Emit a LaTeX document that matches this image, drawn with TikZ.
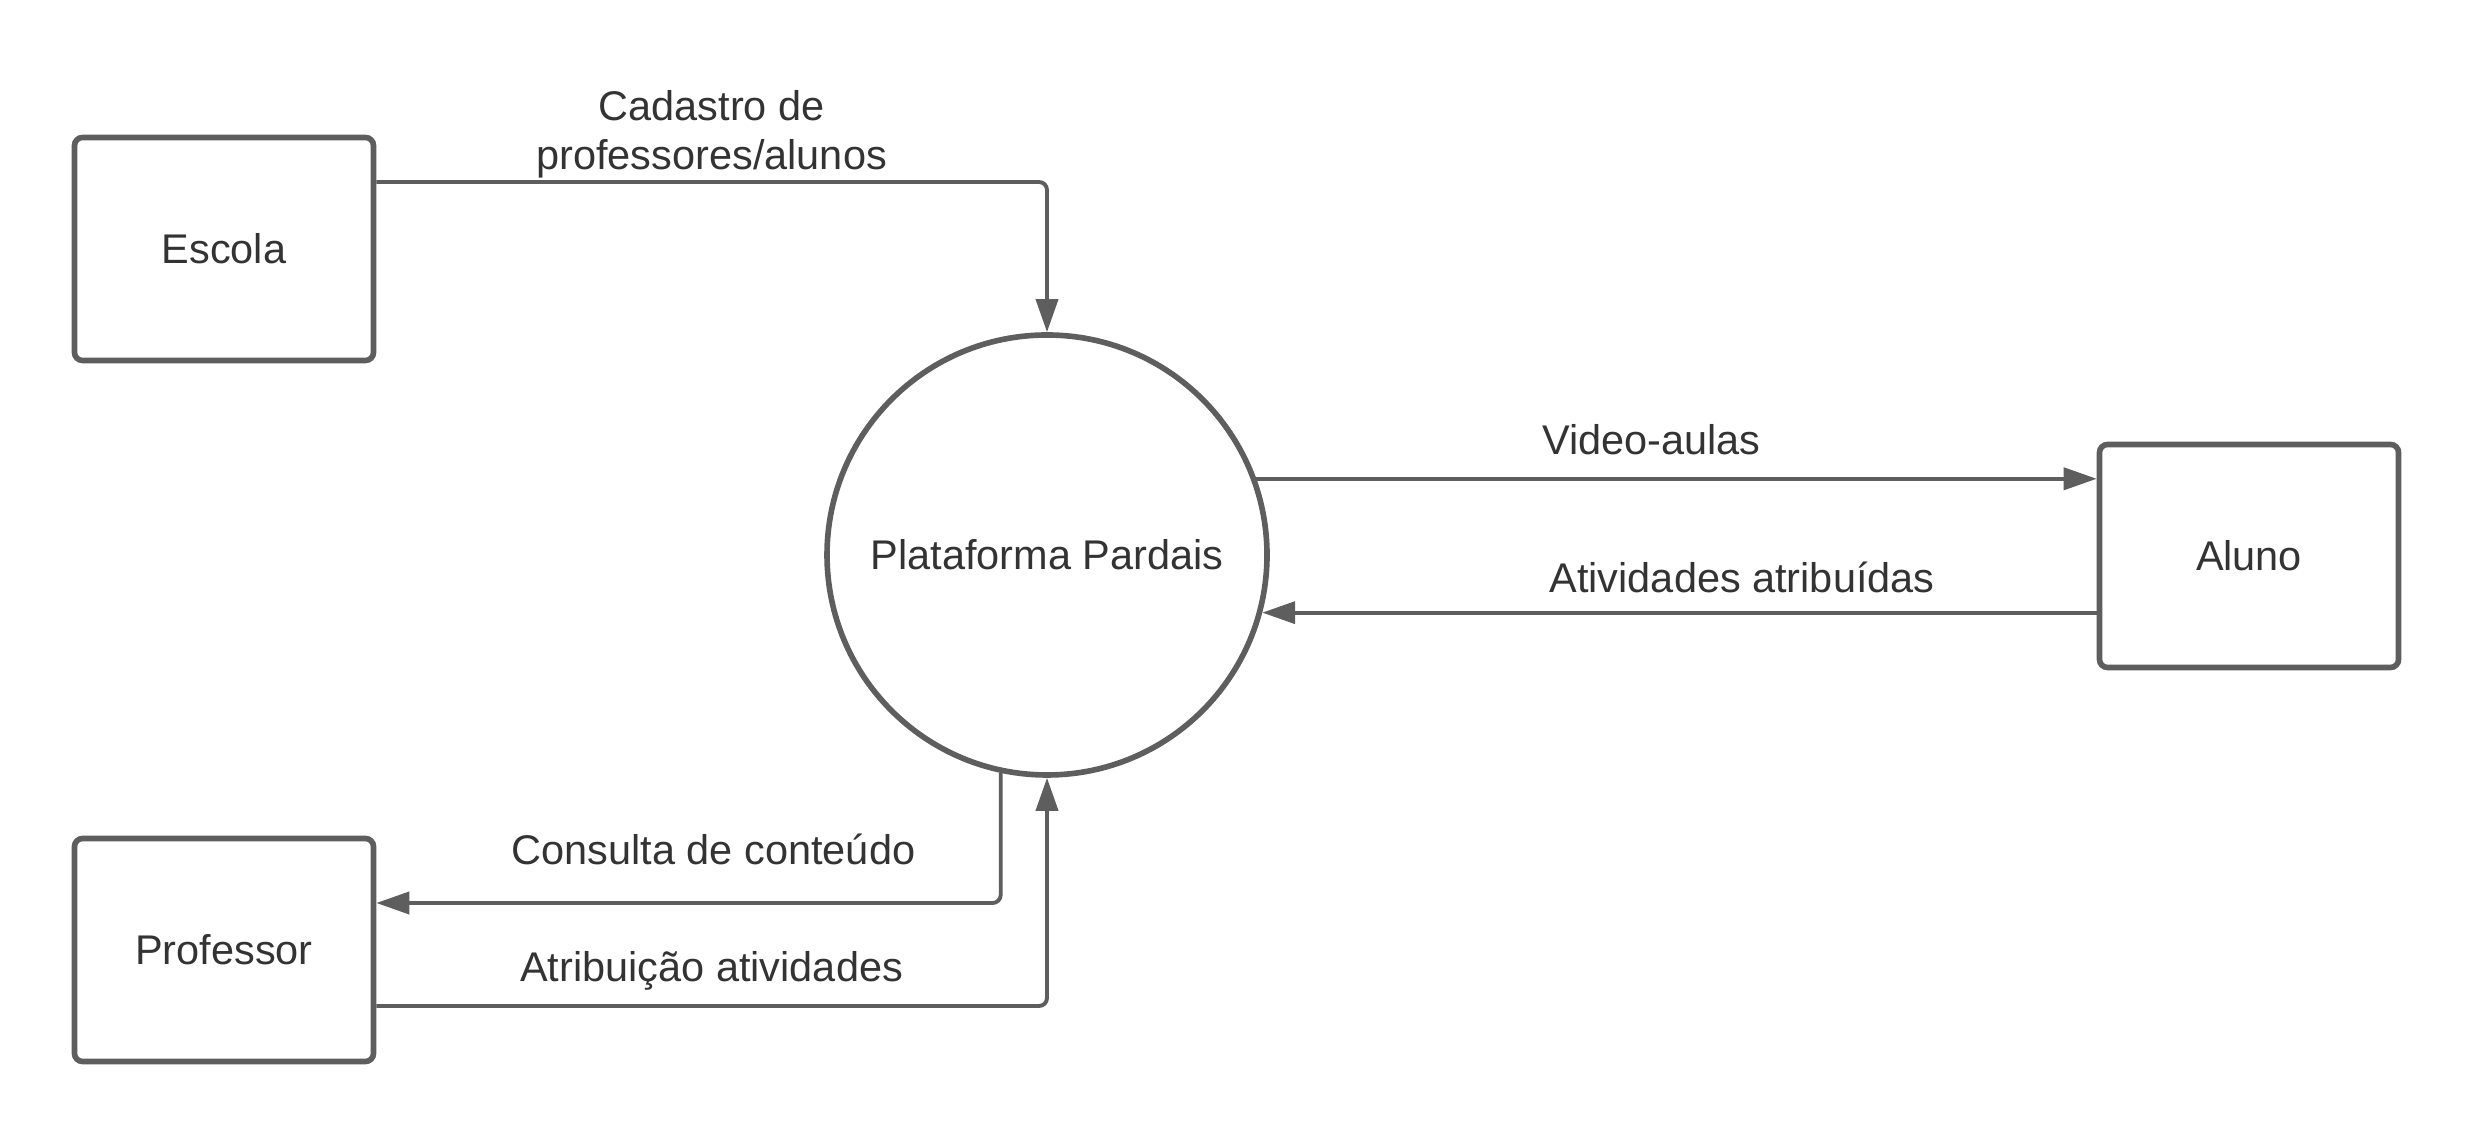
\documentclass[tikz,border=0pt]{standalone}
\usepackage{fontspec}
\setmainfont{Liberation Sans}
\usetikzlibrary{arrows.meta}
\definecolor{linegray}{HTML}{5E5E5E}
\definecolor{textgray}{HTML}{333333}

\begin{document}
\begin{tikzpicture}[
    every node/.style={text=textgray, font=\fontsize{11.8}{14}\selectfont},
    box/.style={shape=rectangle, draw=linegray, line width=1.6pt, rounded corners=0.08cm, minimum width=2.99cm, minimum height=2.23cm},
    flow/.style={draw=linegray, line width=1.1pt, rounded corners=0.08cm, -{Triangle[length=0.33cm, width=0.22cm]}}
  ]
    \useasboundingbox (0, 0) rectangle (24.75, 11.38);
    \node[box] (E) at (2.24, 8.89) {Escola};
    \node[box] (P) at (2.24, 1.88) {Professor};
    \node[box] (A) at (22.49, 5.82) {Aluno};
    \node[shape=circle, draw=linegray, line width=1.6pt, minimum size=4.4cm, inner sep=0pt] (S) at (10.47, 5.83) {Plataforma Pardais};
    \path[flow] ([yshift=0.67cm]E.east) -| node[pos=0.25, above=0.02cm, align=center, inner sep=0pt] {Cadastro de\\professores/alunos} (S.north);
    \path[flow] (S.20) -- node[pos=0.47, anchor=base, yshift=0.24cm] {Video-aulas} (S.20 -| A.west);
    \path[flow] (A.west |- S.-15) -- node[pos=0.425, anchor=base, yshift=0.2cm] {Atividades atribuídas} (S.-15);
    \path[flow] (S.258) |- node[pos=0.73, anchor=base, yshift=0.38cm] {Consulta de conteúdo} ([yshift=0.47cm]P.east);
    \path[flow] ([yshift=-0.56cm]P.east) -| node[pos=0.25, anchor=base, yshift=0.24cm] {Atribuição atividades} (S.south);
  \end{tikzpicture}
\end{document}
